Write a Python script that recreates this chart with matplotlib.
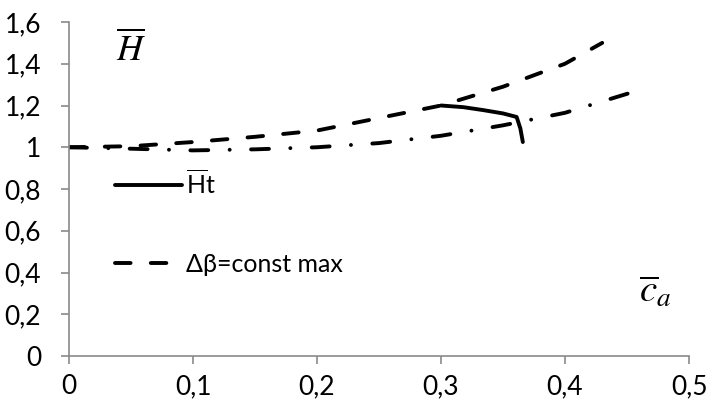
import matplotlib
matplotlib.use("Agg")
import matplotlib.pyplot as plt

plt.rcParams['font.family'] = ['Lato', 'DejaVu Sans']
plt.rcParams['mathtext.fontset'] = 'custom'
plt.rcParams['mathtext.rm'] = 'Lato'

# data
x_dash = [0, 0.05, 0.1, 0.15, 0.2, 0.25, 0.3, 0.35, 0.4, 0.43]
h_dash = [1.0, 1.005, 1.025, 1.05, 1.08, 1.14, 1.20, 1.29, 1.40, 1.50]

x_dashdot = [0, 0.05, 0.1, 0.15, 0.2, 0.25, 0.3, 0.35, 0.4, 0.46]
h_dashdot = [1.0, 0.993, 0.985, 0.99, 1.0, 1.02, 1.055, 1.105, 1.165, 1.274]

x_ht = [0.300, 0.318, 0.334, 0.350, 0.361, 0.364, 0.366]
h_ht = [1.200, 1.192, 1.178, 1.162, 1.145, 1.09, 1.025]

xticks = [0, 0.1, 0.2, 0.3, 0.4, 0.5]
xlabels = ['0', '0,1', '0,2', '0,3', '0,4', '0,5']
yticks = [0, 0.2, 0.4, 0.6, 0.8, 1.0, 1.2, 1.4, 1.6]
ylabels = ['0', '0,2', '0,4', '0,6', '0,8', '1', '1,2', '1,4', '1,6']

fig = plt.figure(figsize=(7.08, 4.03), dpi=100)
ax = fig.add_axes([69/708, (403-356)/403, 620/708, 334/403])

lw = 2.8
l_dash, = ax.plot(x_dash, h_dash, color='black', lw=lw, dash_capstyle='round',
                  dashes=(4.0, 5.2), label='Δβ=const max')
l_dd, = ax.plot(x_dashdot, h_dashdot, color='black', lw=lw, dash_capstyle='round',
                dashes=(4.6, 5.5, 0.01, 5.5))
l_ht, = ax.plot(x_ht, h_ht, color='black', lw=lw, solid_capstyle='round',
                solid_joinstyle='round', label=r'$\overline{\mathrm{H}}$t', zorder=3)

ax.set_xlim(0, 0.5)
ax.set_ylim(0, 1.6)
ax.set_xticks(xticks)
ax.set_xticklabels(xlabels)
ax.set_yticks(yticks)
ax.set_yticklabels(ylabels)

for s in ['top', 'right']:
    ax.spines[s].set_visible(False)
for s in ['left', 'bottom']:
    ax.spines[s].set_color('#8a8a8a')
    ax.spines[s].set_linewidth(1.2)
ax.tick_params(colors='#8a8a8a', length=6, width=1.2, labelcolor='black', labelsize=19)
ax.tick_params(axis='x', pad=7)
ax.tick_params(axis='y', pad=14)

ax.text(0.05, 1.475, r'$\overline{H}$', math_fontfamily='stix', fontsize=26,
        ha='center', va='center')
ax.text(0.473, 0.31, r'$\overline{c}_a$', math_fontfamily='stix', fontsize=28,
        ha='center', va='center')

ax.legend(handles=[l_ht, l_dash], loc='upper left', bbox_to_anchor=(0.074, 0.56),
          frameon=False, fontsize=18, handlelength=2.7, handletextpad=0.15,
          labelspacing=2.2, borderpad=0, borderaxespad=0)

fig.savefig('out.png', dpi=100)
